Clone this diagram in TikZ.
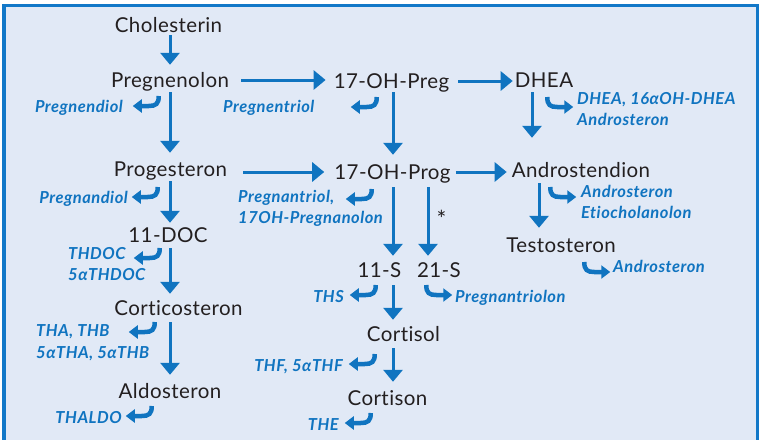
\documentclass[tikz,border=0pt]{standalone}
\usepackage{fontspec}
\setmainfont{Lato}[Ligatures=NoCommon]
\newfontfamily\labfam{Lato}[Ligatures=NoCommon, LetterSpace=3]
\newfontfamily\mainfam{Lato}[Ligatures=NoCommon, LetterSpace=2]
\usetikzlibrary{arrows.meta}
\definecolor{blu}{RGB}{16,116,192}
\definecolor{txt}{RGB}{35,31,32}
\definecolor{bgc}{RGB}{225,233,246}
\definecolor{frm}{RGB}{18,120,200}
\newcommand\mfont{\mainfam\fontsize{20.5}{24}\selectfont}
\newcommand\lfont{\labfam\fontsize{16.5}{20}\selectfont\bfseries\itshape}
\begin{document}
\begin{tikzpicture}[x=1pt,y=-1pt,
  mn/.style={font=\mfont, text=txt, inner xsep=0pt, inner ysep=2pt, text height=14pt, text depth=0pt, anchor=base, minimum width=#1},
  mn/.default=40pt,
  lb/.style={font=\lfont, text=blu, inner sep=0pt},
  arr/.style={draw=blu, line width=3pt, -{Triangle[length=12pt,width=19pt]}},
  hk/.style={draw=blu, line width=4.5pt, -{Triangle[length=9pt,width=13pt]}},
  hookl/.pic={\draw[hk] (0,0) .. controls (0,8) and (-3,10) .. (-10,10) -- (-26,10);},
  hookr/.pic={\draw[hk] (0,0) .. controls (0,8) and (3,10) .. (10,10) -- (26,10);},
]
\useasboundingbox (0,0) rectangle (762,439);
\clip (0,0) rectangle (762,439);
\fill[bgc] (4,5.5) rectangle (757.5,450);
\draw[frm, line width=3.5pt] (4,450) -- (4,5.5) -- (757.5,5.5) -- (757.5,450);

% main nodes
\node[mn=107pt] (chol) at (168.5,32) {Cholesterin};
\node[mn=120pt] (preg) at (170,87) {Pregnenolon};
\node[mn=113pt] (p17) at (391.5,88) {17-OH-Preg};
\node[mn=58pt] (dhea) at (544,87) {DHEA};
\node[mn=115pt] (prog) at (170.5,176) {Progesteron};
\node[mn=115pt] (o17) at (392.5,179) {17-OH-Prog};
\node[mn=138pt] (andro) at (581,177) {Androstendion};
\node[mn=78pt] (doc) at (168,242) {11-DOC};
\node[mn=108pt] (testo) at (561,252) {Testosteron};
\node[mn=41pt] (s11) at (379.5,277) {11-S};
\node[mn=42pt] (s21) at (439,277) {21-S};
\node[mn=127pt] (cortico) at (178.5,315) {Corticosteron};
\node[mn=73pt] (cortisol) at (403.5,341) {Cortisol};
\node[mn=104pt] (aldo) at (170,398) {Aldosteron};
\node[mn=79pt] (cortison) at (387.5,405) {Cortison};
\node[font=\mfont\fontsize{23}{24}\selectfont, text=txt, inner sep=0pt, anchor=base] (star) at (441.5,227) {*};

% columns for vertical arrows
\coordinate (xa) at (170,0);
\coordinate (xb) at (393,0);
\coordinate (xc) at (428,0);
\coordinate (xd) at (532,0);
\coordinate (xe) at (539,0);

% vertical arrows
\draw[arr, shorten <=1pt, shorten >=6pt] (chol.south -| xa) -- (preg.north -| xa);
\draw[arr, shorten <=3pt, shorten >=7pt] (preg.south -| xa) -- (prog.north -| xa);
\draw[arr, shorten <=3pt, shorten >=3pt] (prog.south -| xa) -- (doc.north -| xa);
\draw[arr, shorten <=4pt, shorten >=5pt] (doc.south -| xa) -- (cortico.north -| xa);
\draw[arr, shorten <=5pt, shorten >=7pt] (cortico.south -| xa) -- (aldo.north -| xa);
\draw[arr, shorten <=2pt, shorten >=8pt] (p17.south -| xb) -- (o17.north -| xb);
\draw[arr, shorten <=3pt, shorten >=23pt] (dhea.south -| xd) -- (andro.north -| xd);
\draw[arr, shorten <=6pt, shorten >=5pt] (o17.south -| xb) -- (s11.north -| xb);
\draw[arr, shorten <=6pt, shorten >=5pt] (o17.south -| xc) -- (s21.north -| xc);
\draw[arr, shorten <=6pt, shorten >=5pt] (s11.south -| xb) -- (cortisol.north -| xb);
\draw[arr, shorten <=5pt, shorten >=7pt] (cortisol.south -| xb) -- (cortison.north -| xb);
\draw[arr, shorten <=4pt, shorten >=8pt] (andro.south -| xe) -- (testo.north -| xe);

% horizontal arrows
\draw[arr, shorten <=11pt, shorten >=8pt] (preg.east) -- (preg.east -| p17.west);
\draw[arr, shorten <=9pt, shorten >=2pt] (p17.east) -- (p17.east -| dhea.west);
\draw[arr, shorten <=15pt, shorten >=10pt] (o17.west -| prog.east) -- (o17.west);
\draw[arr, shorten <=5pt, shorten >=5pt] (o17.east) -- (o17.east -| andro.west);

% metabolite labels
\node[lb, anchor=base east] (l1) at (123,112) {Pregnendiol};
\node[lb, anchor=base west] (l2) at (223,112) {Pregnentriol};
\node[lb, anchor=base west] (l3a) at (577,104) {DHEA, 16αOH-DHEA};
\node[lb, anchor=base west] (l3b) at (577,125) {Androsteron};
\node[lb, anchor=base east] (l4) at (128,203) {Pregnandiol};
\node[lb, anchor=base west] (l5a) at (238,202) {Pregnantriol,};
\node[lb, anchor=base west] (l5b) at (238,223) {17OH-Pregnanolon};
\node[lb, anchor=base west] (l6a) at (581,197) {Androsteron};
\node[lb, anchor=base west] (l6b) at (581,218) {Etiocholanolon};
\node[lb, anchor=base west] (l7a) at (68,259) {THDOC};
\node[lb, anchor=base west] (l7b) at (68,280) {5αTHDOC};
\node[lb, anchor=base west] (l8) at (613,272) {Androsteron};
\node[lb, anchor=base east] (l9) at (344,302) {THS};
\node[lb, anchor=base west] (l10) at (455,302) {Pregnantriolon};
\node[lb, anchor=base west] (l11a) at (36,336) {THA, THB};
\node[lb, anchor=base west] (l11b) at (36,358) {5αTHA, 5αTHB};
\node[lb, anchor=base east] (l12) at (343,371) {THF, 5αTHF};
\node[lb, anchor=base east] (l13) at (122,423) {THALDO};
\node[lb, anchor=base east] (l14) at (339,430) {THE};

% hook arrows
\pic (h1) at (158.75,96) {hookl};
\pic (h2) at (376.75,97) {hookl};
\pic (h3) at (157.75,187) {hookl};
\pic (h4) at (371.75,189) {hookl};
\pic (h5) at (159.75,248) {hookl};
\pic (h6) at (375.75,285) {hookl};
\pic (h7) at (154.75,322) {hookl};
\pic (h8) at (374.75,354) {hookl};
\pic (h9) at (151.75,406) {hookl};
\pic (h10) at (370.75,413) {hookl};
\pic (r1) at (547.25,97) {hookr};
\pic (r2) at (550.25,187) {hookr};
\pic (r3) at (584.25,262) {hookr};
\pic (r4) at (426.25,285) {hookr};
\end{tikzpicture}
\end{document}
